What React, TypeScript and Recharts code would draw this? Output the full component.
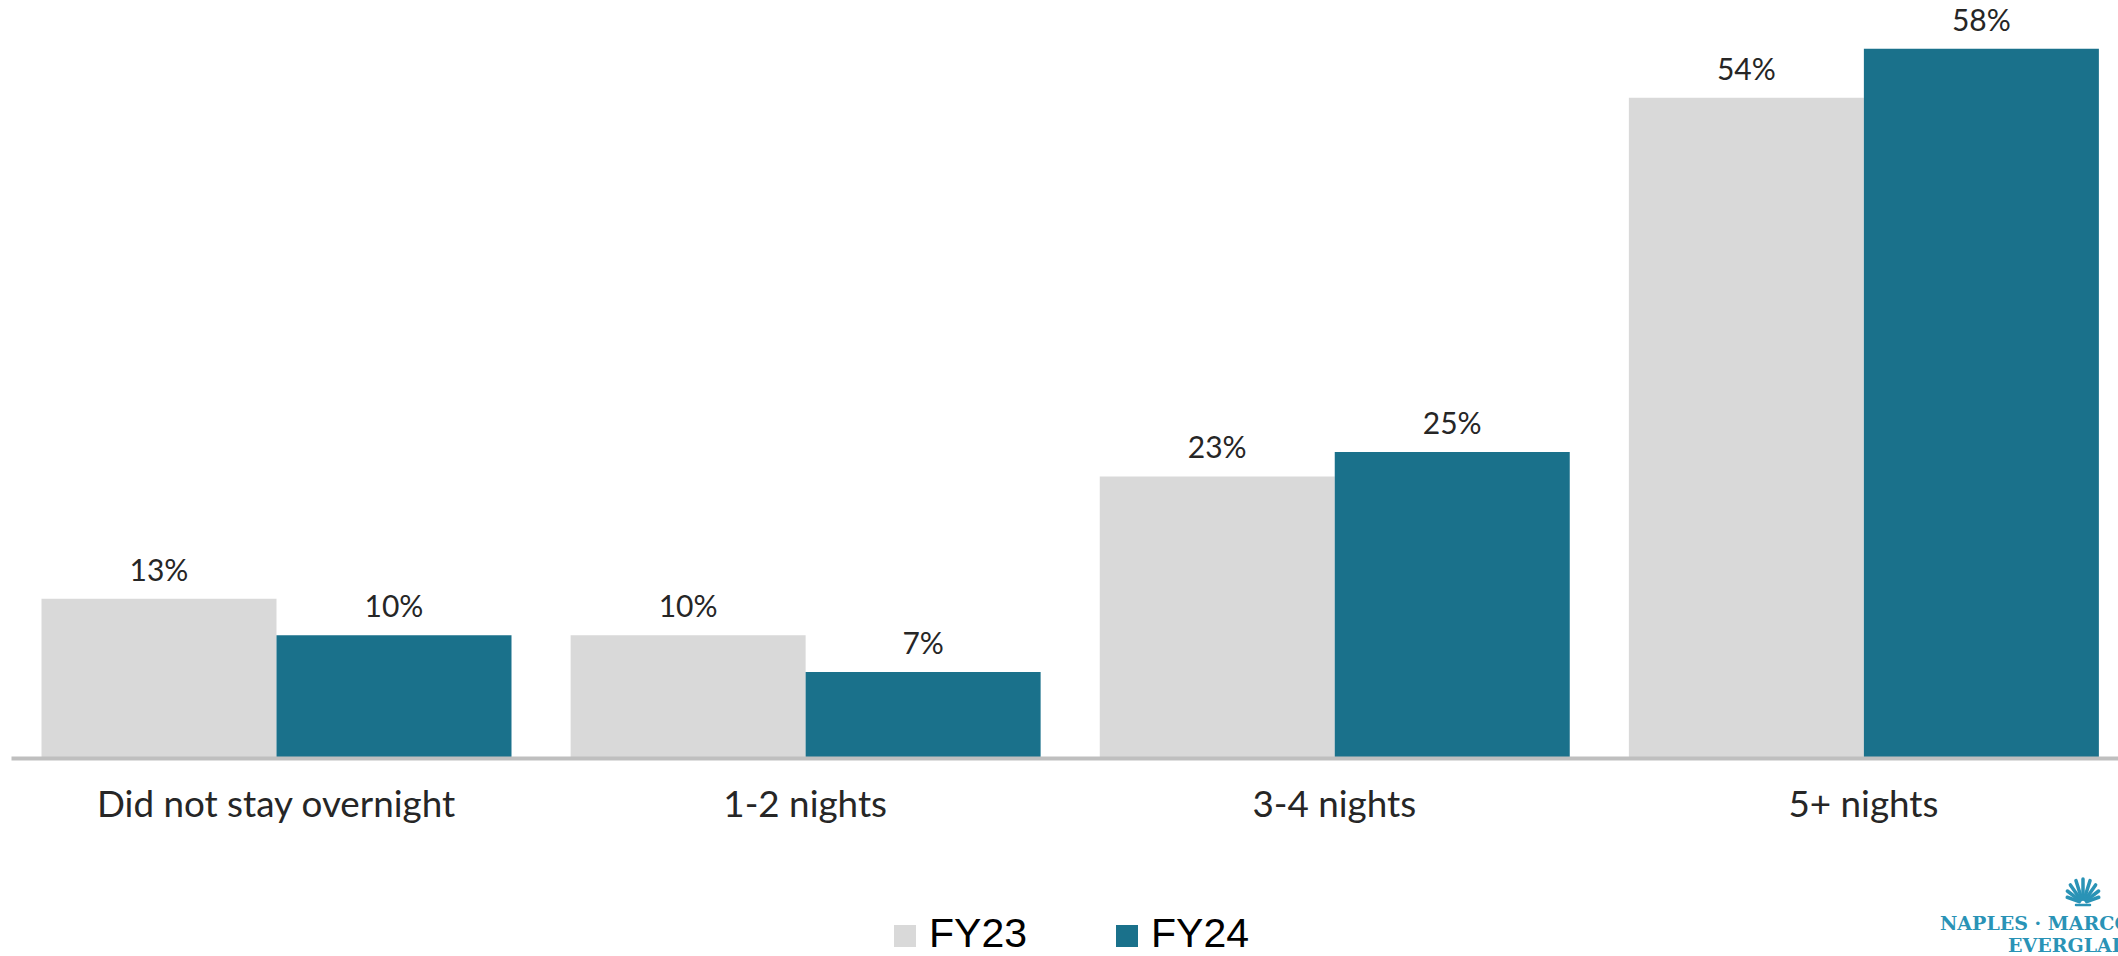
import React from "react";
import { BarChart, Bar, XAxis, YAxis, LabelList } from "recharts";

const categories = ["Did not stay overnight", "1-2 nights", "3-4 nights", "5+ nights"];
const fy23 = [13, 10, 23, 54];
const fy24 = [10, 7, 25, 58];
const seriesNames = ["FY23", "FY24"];
const seriesColors = ["#d9d9d9", "#1a718b"];

const data = categories.map((c, i) => ({ name: c, FY23: fy23[i], FY24: fy24[i] }));

const labelFont = "Lato, 'Open Sans', sans-serif";

const shellAngles = [160, 142.5, 125, 107.5, 90, 72.5, 55, 37.5, 20];

export default function App() {
  return (
    <div
      style={{
        position: "absolute",
        left: 0,
        top: 0,
        width: 2118,
        height: 956,
        overflow: "hidden",
        background: "#ffffff",
      }}
    >
      <BarChart
        width={2130}
        height={956}
        data={data}
        margin={{ top: 0, right: 2, left: 11.5, bottom: 138.5 }}
        barGap={0}
        barSize={235}
      >
        <YAxis hide domain={[0, 62]} />
        <XAxis
          dataKey="name"
          height={60}
          tickLine={false}
          tickSize={0}
          tickMargin={33}
          axisLine={{ stroke: "#bfbfbf", strokeWidth: 4, transform: "translate(0,1)" }}
          tick={{ fill: "#262626", fontSize: 36.8, fontFamily: labelFont }}
          interval={0}
        />
        {seriesNames.map((s, i) => (
          <Bar key={s} dataKey={s} fill={seriesColors[i]} isAnimationActive={false}>
            <LabelList
              dataKey={s}
              position="top"
              offset={18}
              formatter={(v: any) => `${v}%`}
              style={{ fill: "#262626", fontSize: 30, fontFamily: labelFont }}
            />
          </Bar>
        ))}
      </BarChart>

      {/* Legend */}
      <div
        style={{
          position: "absolute",
          left: 0,
          top: 0,
          width: 2118,
          height: 956,
          pointerEvents: "none",
        }}
      >
        {seriesNames.map((s, i) => (
          <div
            key={s}
            style={{
              position: "absolute",
              left: i === 0 ? 894 : 1116,
              top: 918,
              display: "flex",
              alignItems: "center",
              height: 30,
            }}
          >
            <div style={{ width: 22, height: 22, background: seriesColors[i], marginRight: 13, marginTop: 6 }} />
            <span
              style={{
                fontFamily: "'Liberation Sans', Arial, sans-serif",
                fontSize: 41,
                color: "#000",
                lineHeight: "30px",
                height: 30,
                display: "inline-block",
              }}
            >
              {s}
            </span>
          </div>
        ))}
      </div>

      {/* Logo */}
      <svg
        width={2118}
        height={956}
        style={{ position: "absolute", left: 0, top: 0, pointerEvents: "none" }}
      >
        <g stroke="#2a93b6" strokeWidth={3.5} strokeLinecap="round">
          {shellAngles.map((a, k) => {
            const r = (a * Math.PI) / 180;
            const len = 13 + 11 * Math.sin(r);
            const cx = 2083;
            const cy = 903;
            return (
              <line
                key={k}
                x1={cx + 4 * Math.cos(r)}
                y1={cy - 4 * Math.sin(r)}
                x2={cx + len * Math.cos(r)}
                y2={cy - len * Math.sin(r)}
              />
            );
          })}
          <line x1={2076} y1={905} x2={2090} y2={905} strokeWidth={2.5} />
        </g>
        <text
          x={1940}
          y={930}
          fill="#2a93b6"
          fontFamily="'DejaVu Serif', serif"
          fontWeight="bold"
          fontSize={19}
        >
          NAPLES · MARCO ISLAND
        </text>
        <text
          x={2008}
          y={952}
          fill="#2a93b6"
          fontFamily="'DejaVu Serif', serif"
          fontWeight="bold"
          fontSize={19}
        >
          EVERGLADES
        </text>
      </svg>
    </div>
  );
}
